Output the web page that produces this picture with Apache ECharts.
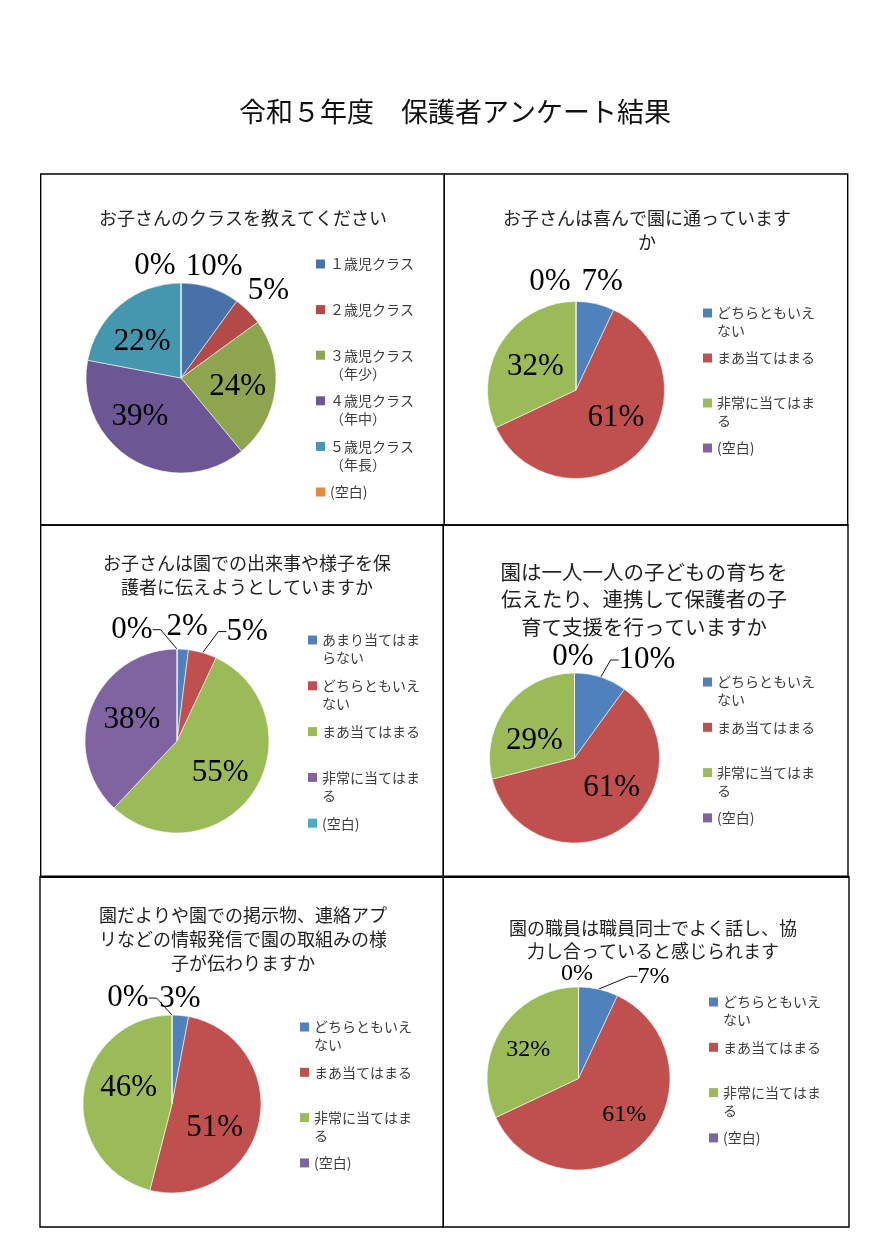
<!DOCTYPE html>
<html><head><meta charset="utf-8">
<script src="https://cdn.jsdelivr.net/npm/echarts@6/dist/echarts.min.js"></script>
<style>html,body{margin:0;padding:0;background:#fff}#c{width:889px;height:1256px}</style>
</head><body><div id="c"></div>
<script>
// ---------- data ----------
const pageTitle = '令和５年度　保護者アンケート結果';

const q1Title = 'お子さんのクラスを教えてください';
const q1Names = ['１歳児クラス', '２歳児クラス', '３歳児クラス（年少）', '４歳児クラス（年中）', '５歳児クラス（年長）', '(空白)'];
const q1Values = [10, 5, 24, 39, 22, 0];

const q2Title = 'お子さんは喜んで園に通っていますか';
const q2Names = ['どちらともいえない', 'まあ当てはまる', '非常に当てはまる', '(空白)'];
const q2Values = [7, 61, 32, 0];

const q3Title = 'お子さんは園での出来事や様子を保護者に伝えようとしていますか';
const q3Names = ['あまり当てはまらない', 'どちらともいえない', 'まあ当てはまる', '非常に当てはまる', '(空白)'];
const q3Values = [2, 5, 55, 38, 0];

const q4Title = '園は一人一人の子どもの育ちを伝えたり、連携して保護者の子育て支援を行っていますか';
const q4Names = ['どちらともいえない', 'まあ当てはまる', '非常に当てはまる', '(空白)'];
const q4Values = [10, 61, 29, 0];

const q5Title = '園だよりや園での掲示物、連絡アプリなどの情報発信で園の取組みの様子が伝わりますか';
const q5Names = ['どちらともいえない', 'まあ当てはまる', '非常に当てはまる', '(空白)'];
const q5Values = [3, 51, 46, 0];

const q6Title = '園の職員は職員同士でよく話し、協力し合っていると感じられます';
const q6Names = ['どちらともいえない', 'まあ当てはまる', '非常に当てはまる', '(空白)'];
const q6Values = [7, 61, 32, 0];

// ---------- styles / layout ----------
const BLUE = '#4F81BD', RED = '#C0504D', GREEN = '#9BBB59', PURPLE = '#8064A2', AQUA = '#4BACC6';
const CJK = '"Noto Sans CJK JP", sans-serif';
const NUM = '"Liberation Serif", "DejaVu Serif", serif';

const panels = [
  { title: q1Title, names: q1Names, values: q1Values,
    colors: ['#4672A8', '#B44A48', '#8CA54E', '#6C5693', '#4596AF', '#E38A3C'],
    box: [40.7, 174, 403.6, 351], titleX: 243, titleTop: 206, titleSize: 18, titleLH: 24,
    center: [181, 378], r: 95, labelSize: 31,
    place: [[1.23, -3, 0], [1.3, 0, 0], [0.6, 0, 2], [0.6, -12, -10], [0.56, -5, 5], [1.18, -26, 0]],
    lines: [0, 0, 0, 0, 0, 0],
    legendX: 316, legendY: 264, slot: 45.6 },
  { title: q2Title, names: q2Names, values: q2Values,
    colors: [BLUE, RED, GREEN, PURPLE],
    box: [444.3, 174, 403.4, 351], titleX: 647, titleTop: 206, titleSize: 18, titleLH: 24,
    center: [576, 390], r: 88.5, labelSize: 31,
    place: [[1.25, 2, 0], [0.54, 6, -6], [0.53, -1, 2], [1.22, -26, 0]],
    lines: [0, 0, 0, 0],
    legendX: 703, legendY: 313, slot: 45 },
  { title: q3Title, names: q3Names, values: q3Values,
    colors: [BLUE, RED, GREEN, PURPLE, AQUA],
    box: [40.7, 525, 402.6, 351.7], titleX: 247, titleTop: 551, titleSize: 18, titleLH: 24,
    center: [177, 741], r: 92, labelSize: 31,
    place: [[1.24, 3, 0], [1.25, 38, 1], [0.58, -1, 2], [0.54, 1, -3], [1.21, -45, 0]],
    lines: [0, 1, 0, 0, 1],
    legendX: 308, legendY: 640, slot: 45.8 },
  { title: q4Title, names: q4Names, values: q4Values,
    colors: [BLUE, RED, GREEN, PURPLE],
    box: [443.3, 525, 404.7, 351.7], titleX: 644, titleTop: 558, titleSize: 20.5, titleLH: 27.5,
    center: [574.5, 758], r: 85, labelSize: 31,
    place: [[1.2, 41, -1], [0.55, 11, -9], [0.5, -6.5, 9], [1.19, -1.5, 0]],
    lines: [1, 0, 0, 0],
    legendX: 703, legendY: 682, slot: 45.3 },
  { title: q5Title, names: q5Names, values: q5Values,
    colors: [BLUE, RED, GREEN, PURPLE],
    box: [40, 876.7, 403.3, 350.3], titleX: 243, titleTop: 903, titleSize: 18, titleLH: 24,
    center: [172, 1104], r: 89, labelSize: 31,
    place: [[1.19, -2, 0], [0.55, -5, 13], [0.52, 2.5, -10], [1.19, -44, 0]],
    lines: [0, 0, 0, 1],
    legendX: 300, legendY: 1027, slot: 45.3 },
  { title: q6Title, names: q6Names, values: q6Values,
    colors: [BLUE, RED, GREEN, PURPLE],
    box: [443.3, 876.7, 405.7, 350.3], titleX: 653, titleTop: 917, titleSize: 18, titleLH: 23,
    center: [578.5, 1078.5], r: 91.5, labelSize: 24,
    place: [[1.2, 51, 5], [0.63, 5, -5], [0.63, -1.5, 2.5], [1.15, -1.5, 0]],
    lines: [1, 0, 0, 0],
    legendX: 709, legendY: 1002, slot: 45.3 }
];

function wrapName(n) {
  const i = n.indexOf('（');
  if (i > 0) return n.slice(0, i) + '\n' + n.slice(i);
  if (n.length > 7) return n.slice(0, 7) + '\n' + n.slice(7);
  return n;
}

// square marker aligned with the first text line of a two-line legend entry
const TWO_LINE_ICON = 'path://M0,0L9,0L9,9L0,9ZM0,27L0,27';

const titles = [{
  text: pageTitle, left: 455, top: 95, textAlign: 'center', textVerticalAlign: 'top', padding: 0,
  textStyle: { fontFamily: CJK, fontSize: 27, lineHeight: 34, fontWeight: 'normal', color: '#111' }
}];
const legends = [];
const series = [];
const graphics = [];

panels.forEach((p, pi) => {
  titles.push({
    text: p.title, left: p.titleX, top: p.titleTop, textAlign: 'center', textVerticalAlign: 'top', padding: 0,
    textStyle: { fontFamily: CJK, fontSize: p.titleSize, lineHeight: p.titleLH, fontWeight: 'normal', color: '#222',
      width: 297, overflow: 'break' }
  });

  const total = p.values.reduce((a, b) => a + b, 0);
  const mids = [];
  let cum = 0;
  p.values.forEach(v => { mids.push((cum + v / 2) / total * 2 * Math.PI); cum += v; });

  series.push({
    type: 'pie', center: p.center, radius: p.r, startAngle: 90, clockwise: true,
    avoidLabelOverlap: false, animation: false, silent: true,
    emphasis: { disabled: true },
    itemStyle: { borderColor: 'rgba(255,255,255,0.7)', borderWidth: 0.8 },
    label: { show: true, formatter: '{d}%', color: '#000', fontFamily: NUM, fontSize: p.labelSize,
      textBorderWidth: 0, fontWeight: 'normal' },
    labelLine: { show: false, length: 10, length2: 8, smooth: false, lineStyle: { color: '#111', width: 1 } },
    labelLayout: function (params) {
      const j = params.dataIndex;
      const pl = p.place[j];
      const a = mids[j];
      return {
        x: p.center[0] + pl[0] * p.r * Math.sin(a) + pl[1],
        y: p.center[1] - pl[0] * p.r * Math.cos(a) + pl[2],
        align: 'center', verticalAlign: 'middle'
      };
    },
    data: p.names.map((n, j) => ({
      name: n, value: p.values[j],
      itemStyle: { color: p.colors[j] },
      label: { position: p.lines[j] ? 'outside' : 'inside' },
      labelLine: { show: !!p.lines[j] }
    }))
  });

  p.names.forEach((n, j) => {
    const two = wrapName(n).indexOf('\n') >= 0;
    legends.push({
      left: p.legendX, top: p.legendY + j * p.slot - 9, orient: 'vertical', padding: 0,
      itemWidth: 9, itemHeight: two ? 27 : 9, itemGap: 0, selectedMode: false,
      icon: two ? TWO_LINE_ICON : 'rect',
      formatter: wrapName,
      itemStyle: { borderWidth: 0 },
      data: [{ name: n, itemStyle: { color: p.colors[j], borderWidth: 0 } }],
      textStyle: { fontFamily: CJK, fontSize: 14, lineHeight: 18, color: '#3c3c3c' }
    });
  });

  graphics.push({
    type: 'rect', silent: true,
    shape: { x: p.box[0], y: p.box[1], width: p.box[2], height: p.box[3] },
    style: { fill: 'none', stroke: '#000', lineWidth: 1.4 }
  });
});
graphics.push({ type: 'line', silent: true, shape: { x1: 40, y1: 876.7, x2: 849, y2: 876.7 },
  style: { stroke: '#000', lineWidth: 2.4 } });

const chart = echarts.init(document.getElementById('c'), null, { renderer: 'canvas' });
chart.setOption({
  backgroundColor: '#fff',
  animation: false,
  title: titles,
  legend: legends,
  series: series,
  graphic: graphics
});
</script>
</body></html>
